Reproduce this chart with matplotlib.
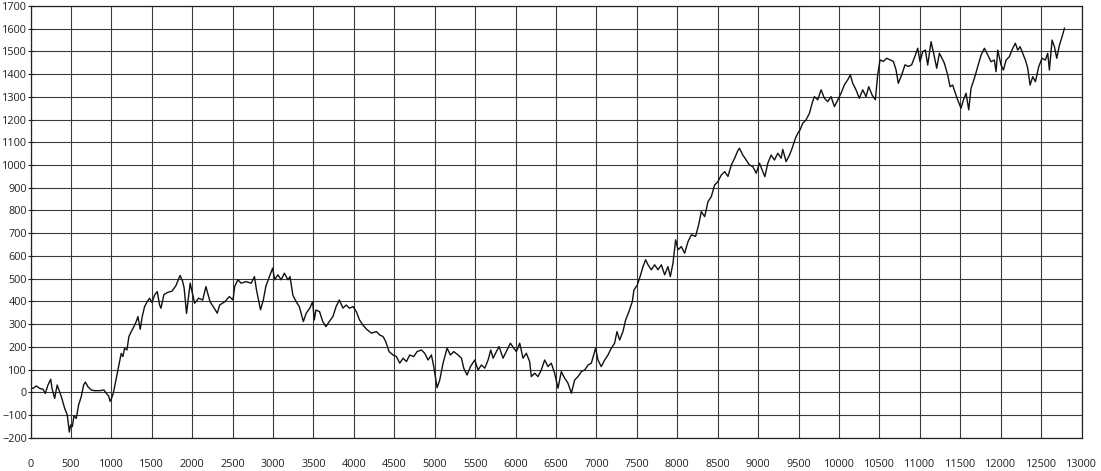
import matplotlib
matplotlib.use("Agg")
import matplotlib.pyplot as plt

# points (x = trade index, y = cumulative value)
xs = [0, 31, 72, 113, 155, 183, 216, 250, 266, 299, 330, 381, 422, 455, 480, 496, 517, 538, 566, 595,
      628, 657, 678, 711, 752, 793, 855, 909, 938, 966, 985, 999, 1024, 1048, 1073, 1102, 1122, 1143, 1164, 1193,
      1217, 1246, 1279, 1308, 1329, 1357, 1382, 1411, 1444, 1473, 1502, 1535, 1568, 1597, 1614, 1650, 1700, 1750, 1800, 1850,
      1880, 1900, 1930, 1975, 2030, 2080, 2130, 2170, 2220, 2260, 2310, 2340, 2405, 2460, 2505, 2525, 2565, 2605, 2665, 2730,
      2770, 2795, 2845, 2880, 2910, 2955, 2995, 3020, 3060, 3100, 3140, 3185, 3210, 3245, 3285, 3325, 3375, 3410, 3455, 3490,
      3510, 3530, 3575, 3615, 3655, 3695, 3740, 3780, 3820, 3865, 3905, 3945, 3990, 4030, 4070, 4115, 4155, 4217, 4279, 4320,
      4361, 4394, 4435, 4485, 4526, 4567, 4609, 4650, 4691, 4740, 4782, 4835, 4876, 4917, 4959, 4988, 5029, 5062, 5103, 5153,
      5194, 5235, 5289, 5330, 5359, 5400, 5442, 5495, 5536, 5577, 5619, 5660, 5693, 5722, 5763, 5796, 5845, 5895, 5936, 5977,
      6010, 6051, 6092, 6133, 6174, 6195, 6236, 6277, 6318, 6360, 6401, 6442, 6483, 6525, 6566, 6607, 6648, 6690, 6731, 6772,
      6813, 6855, 6896, 6937, 6990, 7019, 7060, 7102, 7143, 7184, 7225, 7254, 7287, 7328, 7361, 7402, 7444, 7464, 7506, 7547,
      7576, 7609, 7638, 7679, 7720, 7761, 7803, 7844, 7885, 7914, 7947, 7980, 8009, 8050, 8091, 8133, 8174, 8227, 8269, 8297,
      8339, 8380, 8421, 8462, 8503, 8544, 8586, 8627, 8668, 8710, 8751, 8770, 8811, 8852, 8894, 8935, 8976, 9017, 9050, 9083,
      9120, 9161, 9202, 9244, 9285, 9305, 9346, 9388, 9421, 9462, 9491, 9519, 9552, 9593, 9635, 9668, 9696, 9738, 9779, 9820,
      9861, 9902, 9944, 9985, 10026, 10067, 10108, 10141, 10170, 10211, 10252, 10294, 10335, 10368, 10409, 10450, 10479, 10508, 10549, 10590,
      10631, 10673, 10706, 10734, 10776, 10817, 10858, 10899, 10945, 10974, 11003, 11036, 11069, 11098, 11139, 11180, 11209, 11242, 11275, 11304,
      11345, 11374, 11407, 11440, 11469, 11510, 11539, 11572, 11605, 11634, 11675, 11717, 11758, 11799, 11840, 11881, 11922, 11943, 11964, 12005,
      12034, 12067, 12108, 12149, 12182, 12211, 12240, 12273, 12306, 12335, 12364, 12397, 12430, 12471, 12512, 12553, 12582, 12603, 12636, 12665,
      12694, 12727, 12760, 12789]
ys = [20, 17, 28, 17, 13, -5, 32, 57, 17, -27, 32, -19, -70, -100, -175, -144, -151, -104, -115, -56,
      -19, 32, 45, 24, 10, 7, 7, 10, -5, -16, -40, -30, -5, 39, 83, 135, 171, 157, 194, 186,
      245, 267, 289, 311, 333, 277, 333, 377, 399, 414, 395, 428, 443, 384, 370, 430, 440, 445, 470, 514,
      490, 460, 347, 480, 392, 414, 406, 465, 399, 377, 348, 384, 399, 421, 406, 465, 495, 480, 487, 480,
      509, 451, 363, 406, 465, 509, 546, 495, 517, 495, 524, 495, 509, 428, 399, 377, 311, 348, 370, 399,
      318, 362, 355, 311, 289, 311, 333, 377, 406, 370, 384, 370, 377, 355, 318, 294, 278, 260, 267, 252,
      245, 223, 179, 164, 157, 128, 150, 135, 164, 157, 179, 186, 172, 142, 164, 113, 20, 54, 128, 194,
      164, 179, 164, 150, 106, 76, 113, 142, 98, 120, 106, 142, 186, 150, 179, 201, 150, 186, 216, 194,
      179, 216, 150, 172, 135, 69, 84, 69, 98, 142, 113, 128, 84, 18, 91, 62, 40, -4, 54, 69,
      91, 98, 120, 128, 194, 142, 113, 142, 164, 194, 216, 267, 230, 267, 318, 355, 399, 450, 472, 517,
      553, 583, 561, 539, 561, 539, 561, 517, 553, 509, 568, 671, 627, 641, 612, 663, 693, 686, 744, 795,
      773, 839, 861, 912, 927, 956, 971, 950, 1000, 1030, 1065, 1074, 1044, 1022, 1000, 993, 964, 1008, 978, 949,
      1008, 1044, 1022, 1052, 1030, 1069, 1015, 1044, 1074, 1118, 1140, 1155, 1184, 1199, 1228, 1272, 1301, 1287, 1331, 1294,
      1279, 1301, 1257, 1287, 1316, 1353, 1375, 1397, 1360, 1331, 1294, 1331, 1301, 1345, 1309, 1287, 1397, 1463, 1456, 1470,
      1463, 1456, 1419, 1360, 1397, 1441, 1434, 1441, 1484, 1514, 1455, 1499, 1506, 1440, 1543, 1477, 1426, 1492, 1470, 1448,
      1396, 1345, 1352, 1316, 1286, 1250, 1286, 1316, 1243, 1338, 1382, 1433, 1484, 1514, 1484, 1455, 1462, 1411, 1506, 1440,
      1418, 1462, 1477, 1514, 1536, 1506, 1521, 1492, 1462, 1426, 1352, 1389, 1367, 1433, 1470, 1462, 1492, 1418, 1550, 1521,
      1470, 1528, 1565, 1602]

xticks = list(range(0, 13001, 500))
yticks = list(range(-200, 1701, 100))

fig = plt.figure(figsize=(11.01, 4.71), dpi=100)
ax = fig.add_axes([30.5 / 1101, (471 - 437.7) / 471, 1051 / 1101, 431.7 / 471])

ax.plot(xs, ys, color='#111111', linewidth=1.0)

ax.set_xlim(0, 13000)
ax.set_ylim(-200, 1700)
ax.set_xticks(xticks)
ax.set_yticks(yticks)
ax.grid(True, color='#3a3a3a', linewidth=0.8)
ax.set_axisbelow(True)
for s in ax.spines.values():
    s.set_color('#222222')
    s.set_linewidth(0.9)

ax.tick_params(axis='x', length=0, pad=15, labelsize=7.8, colors='#222222')
ax.tick_params(axis='y', direction='inout', length=5, pad=0, labelsize=7.8, colors='#222222')
for lab in ax.get_xticklabels() + ax.get_yticklabels():
    lab.set_fontfamily('Open Sans')

fig.savefig('out.png', dpi=100, facecolor='white')
